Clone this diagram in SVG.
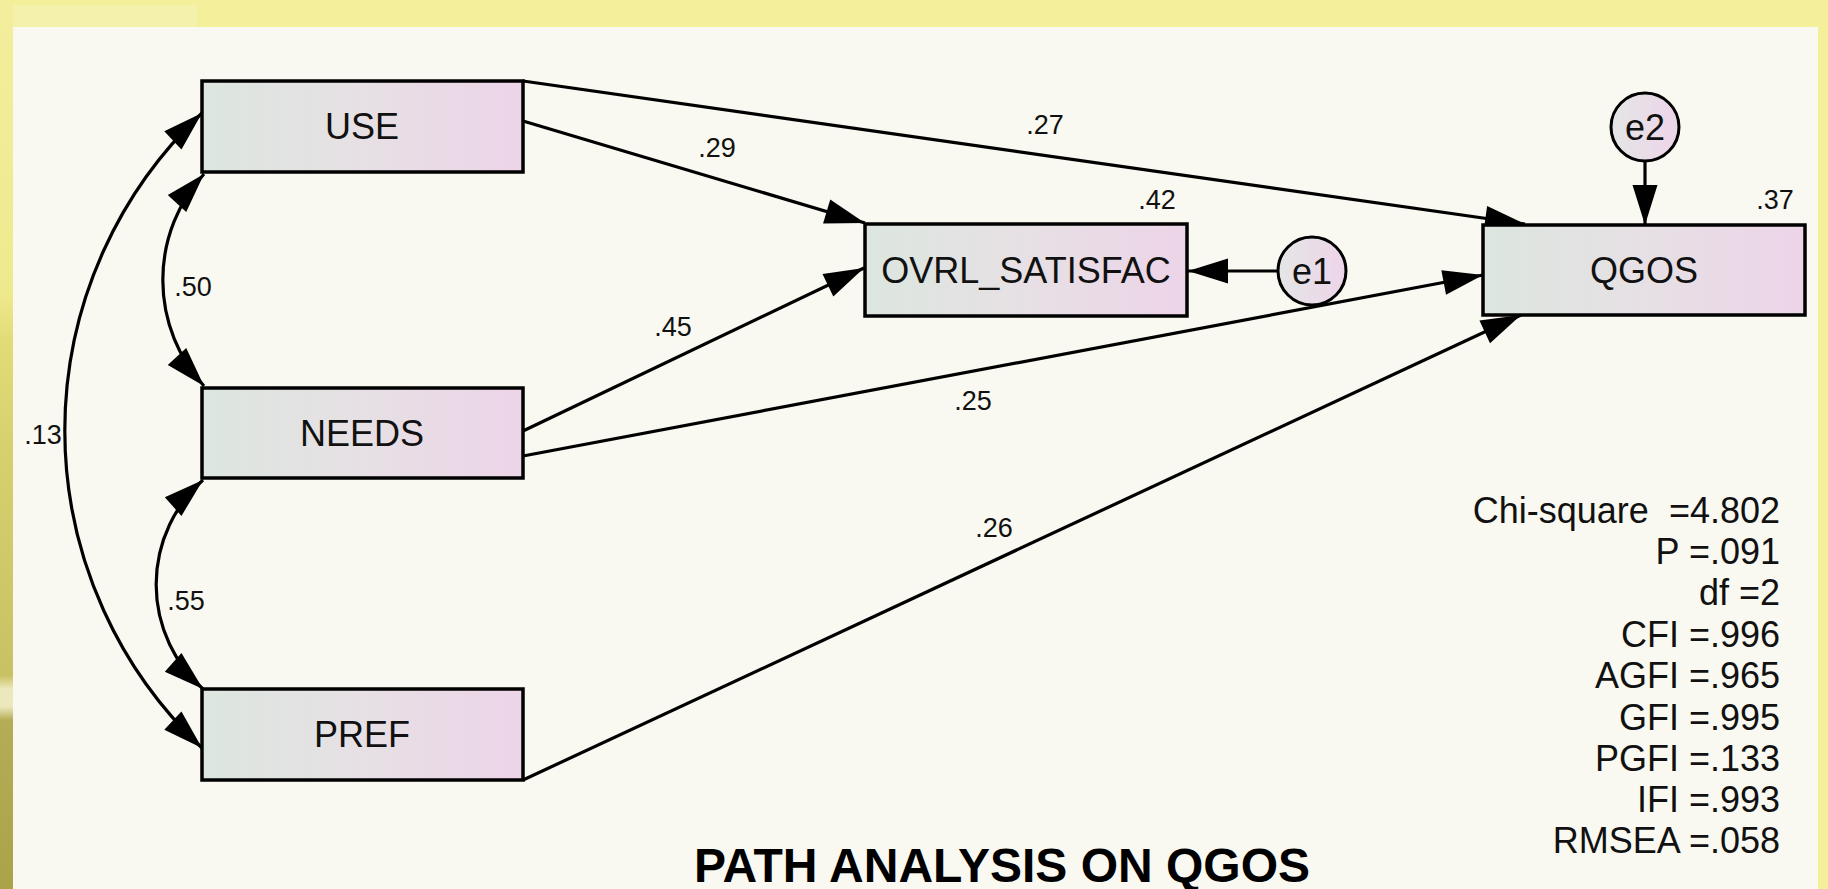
<svg xmlns="http://www.w3.org/2000/svg" width="1828" height="889" viewBox="0 0 1828 889">
<style>
.box{stroke:#000;stroke-width:3.5;fill:url(#gbox)}
.circ{stroke:#000;stroke-width:3;fill:url(#gcirc)}
.lbl{font-family:"Liberation Sans",Arial,sans-serif;font-size:36px;fill:#111;text-anchor:middle}
.num{font-family:"Liberation Sans",Arial,sans-serif;font-size:27px;fill:#111;text-anchor:middle}
.stat{font-family:"Liberation Sans",Arial,sans-serif;font-size:36px;fill:#111;text-anchor:end;white-space:pre}
.title{font-family:"Liberation Sans",Arial,sans-serif;font-size:48px;font-weight:bold;fill:#000;text-anchor:middle}
.edge{stroke:#000;stroke-width:3.2;fill:none;marker-end:url(#arr)}
.cov{stroke:#000;stroke-width:3.2;fill:none;marker-start:url(#arr);marker-end:url(#arr)}
</style>
<defs>
<linearGradient id="gbox" x1="0" y1="0" x2="1" y2="0">
<stop offset="0" stop-color="#dce6df"/>
<stop offset="0.45" stop-color="#e6e1e4"/>
<stop offset="1" stop-color="#edd4e8"/>
</linearGradient>
<linearGradient id="gcirc" x1="0" y1="0" x2="1" y2="0">
<stop offset="0" stop-color="#e4e6e6"/>
<stop offset="1" stop-color="#eed4e9"/>
</linearGradient>
<linearGradient id="gleft" x1="0" y1="0" x2="0" y2="1">
<stop offset="0" stop-color="#f2ee9c"/>
<stop offset="0.33" stop-color="#efe98e"/>
<stop offset="0.38" stop-color="#e2dc78"/>
<stop offset="0.5" stop-color="#d6d06e"/>
<stop offset="0.76" stop-color="#c9c265"/>
<stop offset="0.775" stop-color="#ece8bc"/>
<stop offset="0.795" stop-color="#ece8bc"/>
<stop offset="0.81" stop-color="#b5ad55"/>
<stop offset="1" stop-color="#aaa34a"/>
</linearGradient>
<marker id="arr" viewBox="-42 -14 43 28" refX="0" refY="0" markerWidth="43" markerHeight="28" orient="auto-start-reverse" markerUnits="userSpaceOnUse">
<path d="M0,0 L-40,-12.5 L-40,12.5 Z" fill="#000"/>
</marker>
</defs>
<g id="background">
<rect x="0" y="0" width="1828" height="889" fill="#f3ef9a"/>
<rect x="0" y="5" width="197" height="22" fill="#f4f1ad"/>
<rect x="0" y="0" width="13" height="889" fill="url(#gleft)"/>
<rect x="13" y="27" width="1805" height="862" fill="#f9f9f1"/>
</g>
<g id="connectors">
<path class="edge" d="M523,81 L1525,224"/>
<path class="edge" d="M523,121 L865,223"/>
<path class="edge" d="M523,431 L864,268"/>
<path class="edge" d="M523,456 L1483,275"/>
<path class="edge" d="M523,780 L1521,315"/>
<path class="edge" d="M1278,271 L1188,271"/>
<path class="edge" d="M1645,161 L1645,225"/>
<path class="cov" d="M204,174 A157,157 0 0 0 204,386"/>
<path class="cov" d="M203,480 A140,140 0 0 0 203,689"/>
<path class="cov" d="M202,113 A436,436 0 0 0 202,748"/>
</g>
<g id="labels">
<text class="num" x="1045" y="134">.27</text>
<text class="num" x="717" y="157">.29</text>
<text class="num" x="673" y="336">.45</text>
<text class="num" x="973" y="410">.25</text>
<text class="num" x="994" y="537">.26</text>
<text class="num" x="193" y="296">.50</text>
<text class="num" x="186" y="610">.55</text>
<text class="num" x="43" y="444">.13</text>
<text class="num" x="1157" y="209">.42</text>
<text class="num" x="1775" y="209">.37</text>
</g>
<g id="USE"><rect class="box" x="202" y="81" width="321" height="91"/><text class="lbl" x="362" y="139">USE</text></g>
<g id="NEEDS"><rect class="box" x="202" y="388" width="321" height="90"/><text class="lbl" x="362" y="446">NEEDS</text></g>
<g id="PREF"><rect class="box" x="202" y="689" width="321" height="91"/><text class="lbl" x="362" y="747">PREF</text></g>
<g id="OVRL_SATISFAC"><rect class="box" x="865" y="224" width="322" height="92"/><text class="lbl" x="1026" y="283">OVRL_SATISFAC</text></g>
<g id="QGOS"><rect class="box" x="1483" y="225" width="322" height="90"/><text class="lbl" x="1644" y="283">QGOS</text></g>
<g id="e1"><circle class="circ" cx="1312" cy="271" r="34"/><text class="lbl" x="1312" y="284">e1</text></g>
<g id="e2"><circle class="circ" cx="1645" cy="127" r="34"/><text class="lbl" x="1645" y="140">e2</text></g>
<g id="fit-stats">
<text class="stat" x="1780" y="523">Chi-square  =4.802</text>
<text class="stat" x="1780" y="564">P =.091</text>
<text class="stat" x="1780" y="605">df =2</text>
<text class="stat" x="1780" y="647">CFI =.996</text>
<text class="stat" x="1780" y="688">AGFI =.965</text>
<text class="stat" x="1780" y="730">GFI =.995</text>
<text class="stat" x="1780" y="771">PGFI =.133</text>
<text class="stat" x="1780" y="812">IFI =.993</text>
<text class="stat" x="1780" y="853">RMSEA =.058</text>
</g>
<g id="title"><text class="title" x="1002" y="882">PATH ANALYSIS ON QGOS</text></g>
</svg>
